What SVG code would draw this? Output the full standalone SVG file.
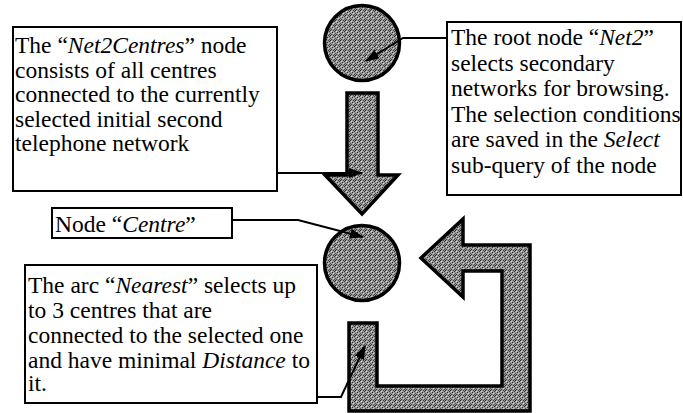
<svg xmlns="http://www.w3.org/2000/svg" width="683" height="413" viewBox="0 0 683 413">
  <defs>
    <!-- dithered grey used for the node discs and the flow arrows -->
    <pattern id="dither" width="5" height="5" patternUnits="userSpaceOnUse">
      <rect width="5" height="5" fill="#9a9a9a"/>
      <rect x="0" y="0" width="1" height="1" fill="#222"/>
      <rect x="3" y="0" width="1" height="1" fill="#444"/>
      <rect x="1" y="1" width="1" height="1" fill="#d8d8d8"/>
      <rect x="4" y="1" width="1" height="1" fill="#333"/>
      <rect x="2" y="2" width="1" height="1" fill="#2a2a2a"/>
      <rect x="0" y="3" width="1" height="1" fill="#555"/>
      <rect x="3" y="3" width="1" height="1" fill="#d0d0d0"/>
      <rect x="1" y="4" width="1" height="1" fill="#3a3a3a"/>
      <rect x="4" y="4" width="1" height="1" fill="#4a4a4a"/>
    </pattern>
    <marker id="head" viewBox="0 0 14 10" refX="13" refY="5" markerWidth="14" markerHeight="10" markerUnits="userSpaceOnUse" orient="auto">
      <path d="M0,0 L14,5 L0,10 Z" fill="#000"/>
    </marker>
  </defs>
  <style>
    .box { fill: #fff; stroke: #000; stroke-width: 2; }
    .txt { font-family: "Liberation Serif", "Times New Roman", serif; font-size: 23.5px; fill: #000; }
    .it { font-style: italic; }
    .shape { fill: url(#dither); stroke: #000; stroke-width: 3.5; stroke-linejoin: miter; }
    .link { fill: none; stroke: #000; stroke-width: 2; marker-end: url(#head); }
  </style>

  <rect width="683" height="413" fill="#fff"/>

  <!-- nodes -->
  <g id="net2">
    <circle class="shape" cx="362" cy="43" r="37.5"/>
  </g>
  <g id="net2-to-centre">
    <path class="shape" d="M347,93 H378 V175 H398 L362,214 L325,175 H347 Z"/>
  </g>
  <g id="centre">
    <circle class="shape" cx="362" cy="263" r="37.5"/>
  </g>
  <g id="nearest">
    <path class="shape" d="M349,323 H377 V386 H502 V271 H463 V297 L421,258 L463,219 V245 H530 V411 H349 Z"/>
  </g>

  <g id="note-net2centres">
    <rect class="box" x="13" y="27" width="264" height="164"/>
    <text class="txt" x="15" y="53">The “<tspan class="it">Net2Centres</tspan>” node</text>
    <text class="txt" x="15" y="77.5">consists of all centres</text>
    <text class="txt" x="15" y="102">connected to the currently</text>
    <text class="txt" x="15" y="126.5">selected initial second</text>
    <text class="txt" x="15" y="151">telephone network</text>
  </g>

  <g id="note-net2">
    <rect class="box" x="447" y="22" width="234" height="173"/>
    <text class="txt" x="451" y="45">The root node “<tspan class="it">Net2</tspan>”</text>
    <text class="txt" x="451" y="70.5">selects secondary</text>
    <text class="txt" x="451" y="96">networks for browsing.</text>
    <text class="txt" x="451" y="121.5">The selection conditions</text>
    <text class="txt" x="451" y="147">are saved in the <tspan class="it">Select</tspan></text>
    <text class="txt" x="451" y="172.5">sub-query of the node</text>
  </g>

  <g id="note-centre">
    <rect class="box" x="52" y="208" width="180" height="30"/>
    <text class="txt" x="55" y="232">Node “<tspan class="it">Centre</tspan>”</text>
  </g>

  <g id="note-nearest">
    <rect class="box" x="25" y="265" width="292" height="138"/>
    <text class="txt" x="28" y="292.5">The arc “<tspan class="it">Nearest</tspan>” selects up</text>
    <text class="txt" x="28" y="317.5">to 3 centres that are</text>
    <text class="txt" x="28" y="342.5">connected to the selected one</text>
    <text class="txt" x="28" y="367.5">and have minimal <tspan class="it">Distance</tspan> to</text>
    <text class="txt" x="28" y="391">it.</text>
  </g>

  <!-- connectors -->
  <g id="connectors">
    <polyline class="link" points="277,173 362,173"/>
    <polyline class="link" points="447,38 403,38 366,61"/>
    <polyline class="link" points="232,220 298,220 363,237"/>
    <polyline class="link" points="317,397 341,397 365,346"/>
  </g>
</svg>
